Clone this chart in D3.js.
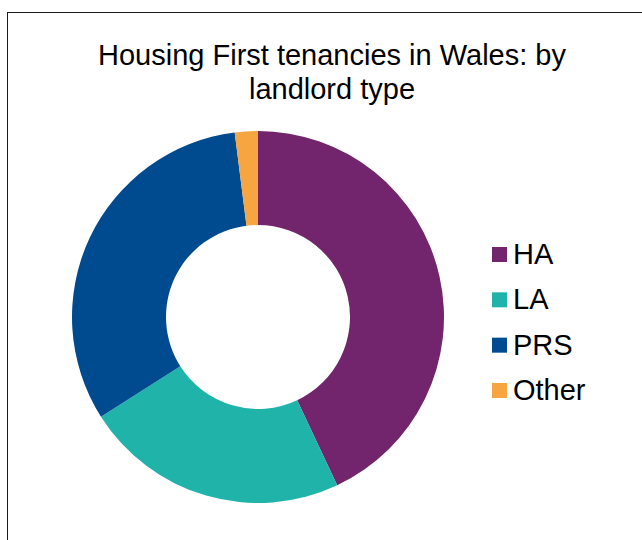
<!DOCTYPE html>
<html>
<head>
<meta charset="utf-8">
<script src="https://cdn.jsdelivr.net/npm/d3@7"></script>
<style>
  body { margin: 0; background: #fff; }
  svg { display: block; font-family: "Liberation Sans", Arial, sans-serif; }
</style>
</head>
<body>
<svg width="642" height="540"></svg>
<script>
// data
var titleLines = ["Housing First tenancies in Wales: by", "landlord type"];
var categories = ["HA", "LA", "PRS", "Other"];
var values = [43, 23, 32, 2];
var colours = ["#72246c", "#20b3a9", "#004b8f", "#f7a541"];

var svg = d3.select("svg");

// chart border
svg.append("rect")
    .attr("x", 7.5)
    .attr("y", 12.5)
    .attr("width", 700)
    .attr("height", 600)
    .attr("fill", "none")
    .attr("stroke", "#1a1a1a")
    .attr("stroke-width", 1);

// title
svg.append("text")
    .attr("x", 332)
    .attr("y", 65)
    .attr("text-anchor", "middle")
    .attr("font-size", 29)
    .attr("fill", "#000")
    .selectAll("tspan")
    .data(titleLines)
    .enter()
    .append("tspan")
    .attr("x", 332)
    .attr("dy", function(d, i){ return i ? 34 : 0; })
    .text(function(d){ return d; });

// donut
var colour = d3.scaleOrdinal()
    .domain(categories)
    .range(colours);

var pie = d3.pie()
    .sort(null)
    .value(function(d){ return d.value; });

var arc = d3.arc()
    .innerRadius(92)
    .outerRadius(186);

var data = categories.map(function(c, i){ return {name: c, value: values[i]}; });

svg.append("g")
    .attr("transform", "translate(258,317)")
    .selectAll("path")
    .data(pie(data))
    .enter()
    .append("path")
    .attr("d", arc)
    .attr("fill", function(d){ return colour(d.data.name); });

// legend
var legendY = d3.scalePoint()
    .domain(categories)
    .range([255, 391]);

var legend = svg.append("g")
    .selectAll("g")
    .data(categories)
    .enter()
    .append("g")
    .attr("transform", function(d){ return "translate(492," + legendY(d) + ")"; });

legend.append("rect")
    .attr("x", 0)
    .attr("y", -8)
    .attr("width", 15)
    .attr("height", 15)
    .attr("fill", function(d){ return colour(d); });

legend.append("text")
    .attr("x", 21)
    .attr("y", 9)
    .attr("font-size", 29)
    .attr("fill", "#000")
    .text(function(d){ return d; });
</script>
</body>
</html>
